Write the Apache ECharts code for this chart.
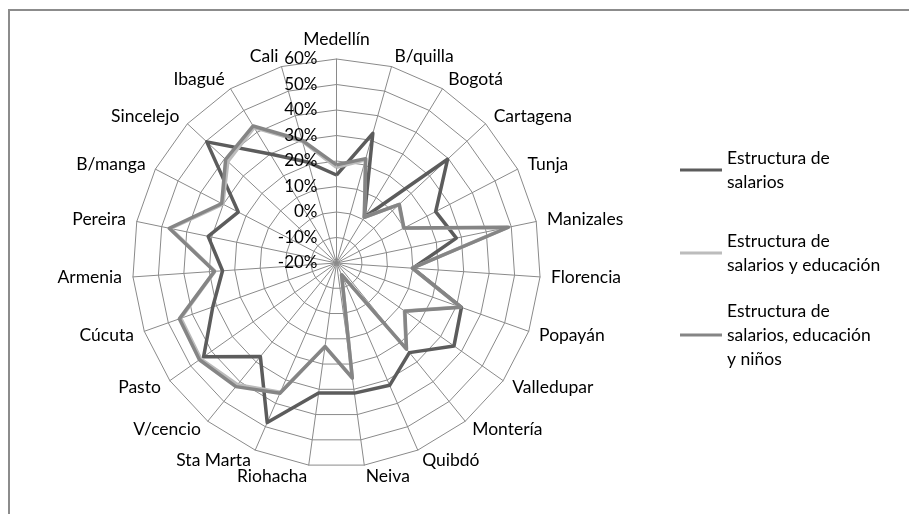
<!DOCTYPE html>
<html>
<head>
<meta charset="utf-8">
<script src="https://cdn.jsdelivr.net/npm/echarts@6/dist/echarts.min.js"></script>
<style>
  html, body { margin: 0; padding: 0; background: #fff; }
  .frame {
    position: absolute;
    left: 8px;
    top: 9px;
    width: 901px;
    height: 505px;
    border-top: 2px solid #8c8c8c;
    border-left: 2px solid #8c8c8c;
    box-sizing: border-box;
  }
  #chart { position: absolute; left: 0; top: 0; width: 909px; height: 514px; }
</style>
</head>
<body>
<div class="frame"></div>
<div id="chart"></div>
<script>
// ciudades, en el orden del gráfico (sentido horario desde arriba)
const cities = ['Medellín', 'B/quilla', 'Bogotá', 'Cartagena', 'Tunja', 'Manizales', 'Florencia',
  'Popayán', 'Valledupar', 'Montería', 'Quibdó', 'Neiva', 'Riohacha', 'Sta Marta', 'V/cencio',
  'Pasto', 'Cúcuta', 'Armenia', 'Pereira', 'B/manga', 'Sincelejo', 'Ibagué', 'Cali']

// valores en %
const salarios = [14.5, 32.8, 1, 39.6, 23.8, 28, 10, 32, 36.4, 25.3, 32.3, 31.5, 31.5,
  48.2, 27.3, 43.8, 31.5, 24.8, 31.4, 23.4, 49.6, 30, 21]
const salariosEducacion = [17.5, 22, 1, 13.5, 9.6, 48.5, 9.8, 31.6, 12.6, 23.3, -15, 25.4, 13,
  35.2, 41.5, 45.2, 44.8, 27.8, 46.5, 30.2, 38.3, 42.2, 29.5]
const salariosEducacionNinos = [18.5, 22.5, 1, 13.7, 9.8, 48.9, 9.8, 31.8, 12.8, 23.5, -15, 25.6, 13.1,
  35.7, 42.5, 45.8, 45.4, 28, 47, 30.7, 39.5, 42.9, 30]

const seriesNames = ['Estructura de salarios', 'Estructura de salarios y educación',
  'Estructura de salarios, educación y niños']
const legendLines = [
  ['Estructura de', 'salarios'],
  ['Estructura de', 'salarios y educación'],
  ['Estructura de', 'salarios, educación', 'y niños']
]
const colors = ['#5c5c5c', '#bcbcbc', '#858585']

const font = 'Lato'
const gridColor = '#8a8a8a'
const cx = 336.5
const cy = 263
const R = 204

// el radar de echarts va en sentido antihorario, así que se invierte el orden
const order = [0].concat(cities.slice(1).map((c, i) => cities.length - 1 - i))
const reorder = arr => order.map(i => arr[i])

const allSeries = [salarios, salariosEducacion, salariosEducacionNinos]

// una leyenda por serie, con el icono a la altura de la primera línea
const lineH = 24
const firstLineY = [170, 253, 335]
const legends = legendLines.map((lines, k) => ({
  orient: 'vertical',
  left: 680,
  top: firstLineY[k] - (lines.length - 1) * lineH - lineH / 2,
  padding: 0,
  icon: 'rect',
  itemWidth: 42,
  itemHeight: 3,
  itemGap: 5,
  data: [seriesNames[k]],
  formatter: () => lines.join('\n'),
  textStyle: {
    fontFamily: font,
    fontSize: 17.5,
    color: '#000',
    lineHeight: lineH,
    padding: [(lines.length - 1) * lineH, 0, 0, 0]
  }
}))

const chart = echarts.init(document.getElementById('chart'))

chart.setOption({
  animation: false,
  legend: legends,
  radar: {
    center: [cx, cy],
    radius: R,
    startAngle: 90,
    shape: 'polygon',
    splitNumber: 8,
    nameGap: 11,
    indicator: reorder(cities).map(name => ({ name: name, min: -20, max: 60 })),
    axisName: {
      color: '#000',
      fontFamily: font,
      fontSize: 17.5
    },
    axisLine: { lineStyle: { color: gridColor, width: 1 } },
    splitLine: { lineStyle: { color: gridColor, width: 1 } },
    splitArea: { show: false }
  },
  // sólo para las etiquetas del eje (en el eje de Medellín)
  polar: { center: [cx, cy], radius: R },
  angleAxis: { type: 'value', min: 0, max: 360, startAngle: 90, show: false },
  radiusAxis: {
    type: 'value',
    min: -20,
    max: 60,
    interval: 10,
    z: 10,
    axisLine: { show: false },
    axisTick: { show: false },
    splitLine: { show: false },
    axisLabel: {
      formatter: '{value}%',
      margin: 19,
      color: '#000',
      fontFamily: font,
      fontSize: 17
    }
  },
  series: [{
    type: 'radar',
    symbol: 'none',
    data: allSeries.map((vals, k) => ({
      name: seriesNames[k],
      value: reorder(vals),
      lineStyle: { color: colors[k], width: 3.5 },
      itemStyle: { color: colors[k] }
    }))
  }]
})
</script>
</body>
</html>
